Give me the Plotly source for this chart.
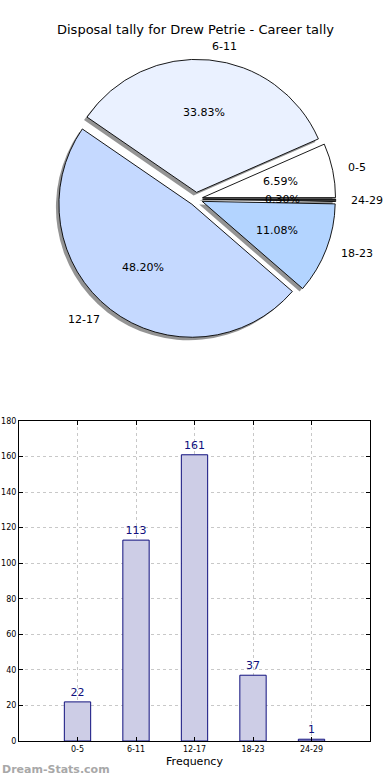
import math
import plotly.graph_objects as go

# ---- data ----
categories = ["0-5", "6-11", "12-17", "18-23", "24-29"]
counts = [22, 113, 161, 37, 1]
slice_colors = ["#ffffff", "#eaf1ff", "#c5d9ff", "#b3d4ff", "#3a3a3a"]
y_ticks = list(range(0, 181, 20))
title_text = "Disposal tally for Drew Petrie - Career tally"

W, H = 390, 780
FONT = "DejaVu Sans"

# ---- pie geometry (pixels) ----
cx, cy = 196.0, 199.0
r = 133.0
pull = 0.05
box = 2 * r * (1 + pull)
total = sum(counts)
# plotly: counterclockwise pies start at rotation + first slice angle
rotation = 90 - 360.0 * counts[0] / total

def dom(cx_px, cy_px):
    return dict(x=[(cx_px - box / 2) / W, (cx_px + box / 2) / W],
                y=[1 - (cy_px + box / 2) / H, 1 - (cy_px - box / 2) / H])

fig = go.Figure()

# shadow pie
fig.add_trace(go.Pie(
    values=counts, labels=categories, sort=False, direction="counterclockwise",
    rotation=rotation, pull=[pull] * len(counts), textinfo="none", hoverinfo="skip",
    marker=dict(colors=["rgba(0,0,0,0.42)"] * len(counts), line=dict(width=0)),
    domain=dom(cx - 3, cy + 3), showlegend=False,
))
# main pie
fig.add_trace(go.Pie(
    values=counts, labels=categories, sort=False, direction="counterclockwise",
    rotation=rotation, pull=[pull] * len(counts), textinfo="none", hoverinfo="skip",
    marker=dict(colors=slice_colors, line=dict(color="black", width=0.9)),
    domain=dom(cx, cy), showlegend=False,
))

# labels and percentages (matplotlib-style positions)
annotations = []
start = 0.0
for cat, v in zip(categories, counts):
    frac = v / total
    mid = (start + frac / 2) * 2 * math.pi
    start += frac
    ox = cx + pull * r * math.cos(mid)
    oy = cy - pull * r * math.sin(mid)
    lx = ox + 1.1 * r * math.cos(mid)
    ly = oy - 1.1 * r * math.sin(mid)
    px = ox + 0.6 * r * math.cos(mid)
    py = oy - 0.6 * r * math.sin(mid)
    annotations.append(dict(
        x=lx / W, y=1 - ly / H, xref="paper", yref="paper", text=cat,
        showarrow=False, xanchor="left" if math.cos(mid) > 0 else "right",
        yanchor="middle", font=dict(family=FONT, size=11, color="black")))
    annotations.append(dict(
        x=px / W, y=1 - py / H, xref="paper", yref="paper",
        text="%.2f%%" % (100 * frac), showarrow=False, xanchor="center",
        yanchor="middle", font=dict(family=FONT, size=11, color="black")))

# ---- bar chart ----
fig.add_trace(go.Bar(
    x=categories, y=counts, width=0.45,
    marker=dict(color="#cdcde6", line=dict(color="#10107e", width=1)),
    text=[str(c) for c in counts], textposition="outside", cliponaxis=False,
    textfont=dict(family=FONT, size=11, color="#10107e"),
    hoverinfo="skip", showlegend=False,
))

fig.update_layout(
    width=W, height=H, margin=dict(l=0, r=0, t=0, b=0, autoexpand=False),
    paper_bgcolor="white", plot_bgcolor="white",
    font=dict(family=FONT, color="black"),
    bargap=0,
    xaxis=dict(
        domain=[19 / W, 370 / W], type="category", range=[-1, 5],
        showline=True, mirror="ticks", linecolor="black", linewidth=1,
        ticks="inside", ticklen=4, tickcolor="black",
        showgrid=True, gridcolor="#c8c8c8", griddash="dot", gridwidth=1,
        tickfont=dict(family=FONT, size=8, color="black"),
        title=dict(text="Frequency", font=dict(family=FONT, size=11), standoff=4),
        zeroline=False, fixedrange=True, automargin=False,
    ),
    yaxis=dict(
        domain=[1 - 741 / H, 1 - 421 / H], range=[0, 180],
        tickvals=y_ticks, ticktext=[str(t) for t in y_ticks],
        showline=True, mirror="ticks", linecolor="black", linewidth=1,
        ticks="inside", ticklen=4, tickcolor="black",
        showgrid=True, gridcolor="#c8c8c8", griddash="dot", gridwidth=1,
        tickfont=dict(family=FONT, size=8, color="black"),
        zeroline=False, fixedrange=True, automargin=False,
    ),
    annotations=annotations + [
        dict(x=0.5, y=1 - 30 / H, xref="paper", yref="paper", text=title_text,
             showarrow=False, xanchor="center", yanchor="middle",
             font=dict(family=FONT, size=13, color="black")),
        dict(x=0, y=1 - 769 / H, xref="paper", yref="paper", text="<b>Dream-Stats.com</b>",
             showarrow=False, xanchor="left", yanchor="middle",
             font=dict(family=FONT, size=11, color="#a8a8a8")),
    ],
)

fig.write_html(
    "out.html",
    config={"displayModeBar": False, "staticPlot": True},
    post_script="document.body.style.margin='0';document.body.style.overflow='hidden';",
)
